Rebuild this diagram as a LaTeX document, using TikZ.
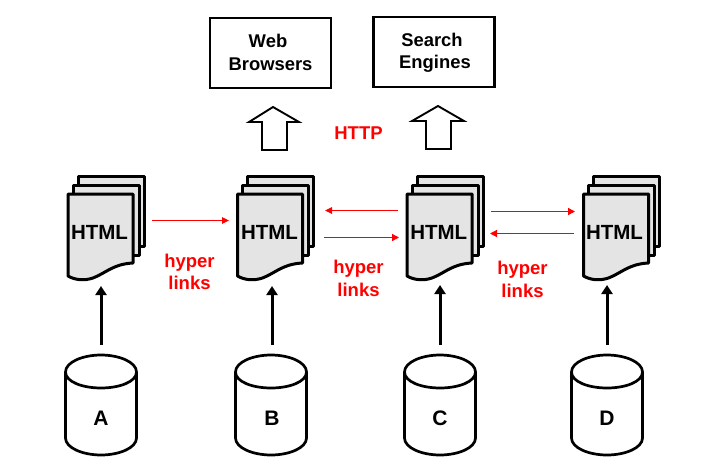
\documentclass[tikz,border=0pt]{standalone}
\usepackage{fontspec}
\setmainfont{Liberation Sans}
\usetikzlibrary{arrows.meta}
\definecolor{sheetgray}{HTML}{E4E4E4}
\definecolor{linkred}{HTML}{FF0000}
\tikzset{
  sheet/.style={draw=black,fill=sheetgray,line width=3pt,line join=round},
  boxnode/.style={draw=black,line width=2.8pt,inner sep=0pt,minimum width=121pt,minimum height=70pt},
  boxtext/.style={font=\fontsize{18.4}{22}\selectfont\bfseries,inner sep=0pt,anchor=base},
  blockarrow/.style={draw=black,fill=white,line width=1.9pt,line join=miter},
  redlabel/.style={text=linkred,font=\fontsize{18.5}{22}\selectfont\bfseries,inner sep=0pt,anchor=base},
  doclabel/.style={font=\fontsize{20.5}{24}\selectfont\bfseries,inner sep=0pt,anchor=base},
  cyllabel/.style={font=\fontsize{21}{25}\selectfont\bfseries,inner sep=0pt,anchor=base},
  cylline/.style={draw=black,fill=white,line width=2.7pt,line join=round},
  feed/.style={draw=black,line width=3pt,-{Triangle[length=9pt,width=11pt]}},
  linkarrow/.style={draw=linkred,line width=1pt,-{Triangle[length=7pt,width=6.5pt]}},
  linkarrowb/.style={draw=linkred,line width=1.3pt,-{Triangle[length=7pt,width=7pt]}},
}
\newcommand{\docstack}[3]{%
  \begin{scope}[shift={(#2,0)}]
    \path[sheet] (78,176) -- (144,176) -- (144,246) -- (78,246) -- cycle;
    \path[sheet] (73,185) -- (139,185) -- (139,255) -- (73,255) -- cycle;
    \path[sheet] (68,194) -- (133,194) -- (133,263)
      .. controls (113,264) and (106,273) .. (93,278)
      .. controls (84,281) and (75,280) .. (68,276) -- cycle;
    \node[doclabel] (#1) at (#3,239) {HTML};
  \end{scope}}
\newcommand{\cylinder}[4]{%
  \begin{scope}[shift={(#2,0)}]
    \path[cylline] (-35.5,372) -- (-35.5,438)
      .. controls (-35.5,448) and (-18,455) .. (0,455)
      .. controls (18,455) and (35.5,448) .. (35.5,438) -- (35.5,372)
      .. controls (35.5,362) and (18,355) .. (0,355)
      .. controls (-18,355) and (-35.5,362) .. (-35.5,372) -- cycle;
    \path[draw=black,line width=2.7pt] (-35.5,372)
      .. controls (-35.5,382) and (-18,388) .. (0,388)
      .. controls (18,388) and (35.5,382) .. (35.5,372);
    \node[cyllabel] (#1) at (#4,425) {#3};
  \end{scope}}
\begin{document}
\begin{tikzpicture}[x=1pt,y=-1pt]
  \useasboundingbox[fill=white] (0,0) rectangle (709,464);

  \node[boxnode] (web) at (270.5,53) {};
  \node[boxnode] (search) at (434,52) {};
  \node[boxtext] (web1) at (268,47.5) {Web};
  \node[boxtext] (web2) at (270.5,70.7) {Browsers};
  \node[boxtext] (search1) at (432,46.7) {Search};
  \node[boxtext] (search2) at (435,68.5) {Engines};

  \path[blockarrow] (273,107) -- (299,122) -- (287,122) -- (287,150) -- (262,150) -- (262,122) -- (249,122) -- cycle;
  \path[blockarrow] (438,106) -- (464,121) -- (451,121) -- (451,149) -- (426,149) -- (426,121) -- (412,121) -- cycle;
  \node[redlabel] (http) at (358.5,139) {HTTP};

  \docstack{docA}{0}{99.5}
  \docstack{docB}{169.5}{100}
  \docstack{docC}{339}{99.8}
  \docstack{docD}{515.5}{99}

  \cylinder{cylA}{101}{A}{0}
  \cylinder{cylB}{271}{B}{1}
  \cylinder{cylC}{440}{C}{0}
  \cylinder{cylD}{607}{D}{0}

  \coordinate (tA) at (101,345); \coordinate (hA) at (101,286);
  \coordinate (tB) at (272,345); \coordinate (hB) at (272,286);
  \coordinate (tC) at (440,345); \coordinate (hC) at (440,285);
  \coordinate (tD) at (607,345); \coordinate (hD) at (607,285);
  \draw[feed] (tA) -- (hA);
  \draw[feed] (tB) -- (hB);
  \draw[feed] (tC) -- (hC);
  \draw[feed] (tD) -- (hD);

  \coordinate (r1a) at (152,220.5); \coordinate (r1b) at (229,220.5);
  \coordinate (r2a) at (398,210.5); \coordinate (r2b) at (325,210.5);
  \coordinate (r3a) at (324,237.5); \coordinate (r3b) at (399,237.5);
  \coordinate (r4a) at (491,211.5); \coordinate (r4b) at (575,211.5);
  \coordinate (r5a) at (574,233.5); \coordinate (r5b) at (490,233.5);
  \draw[linkarrow] (r1a) -- (r1b);
  \draw[linkarrow] (r2a) -- (r2b);
  \draw[linkarrowb] (r3a) -- (r3b);
  \draw[linkarrowb] (r4a) -- (r4b);
  \draw[linkarrowb] (r5a) -- (r5b);

  \node[redlabel] (h1) at (189.5,267) {hyper};
  \node[redlabel] (l1) at (189.5,289) {links};
  \node[redlabel] (h2) at (358.5,273) {hyper};
  \node[redlabel] (l2) at (358.5,296) {links};
  \node[redlabel] (h3) at (522.5,274) {hyper};
  \node[redlabel] (l3) at (522.5,297) {links};
\end{tikzpicture}
\end{document}
